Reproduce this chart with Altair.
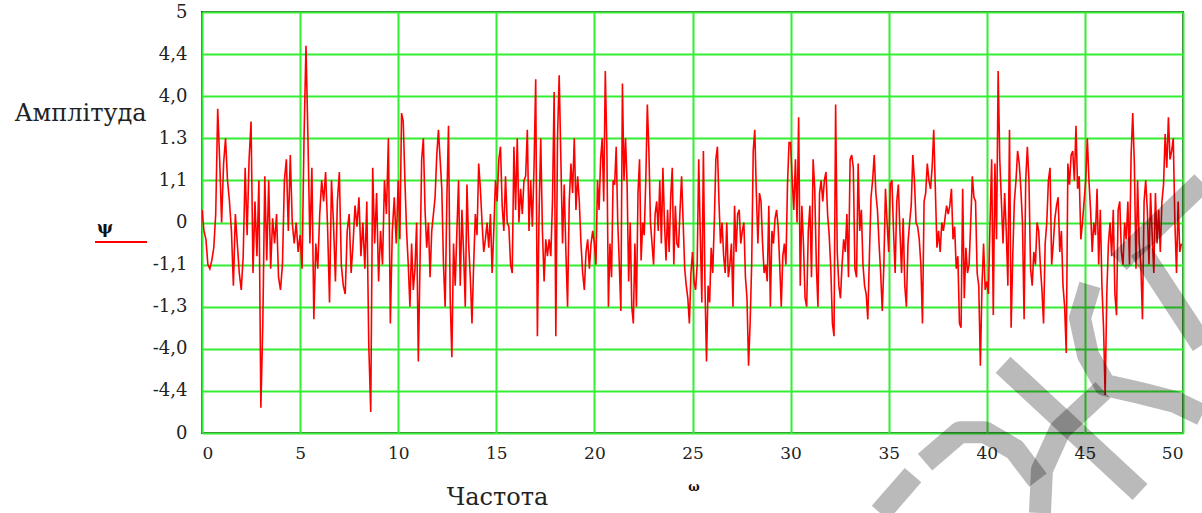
import altair as alt
import pandas as pd

# Signal, on the chart's 0..10 vertical grid scale, one list per 10-unit span of "Частота"
seg_0_10 = [5.3, 4.8, 4.6, 4.0, 3.9, 4.1, 4.4, 5.2, 7.7, 6.5, 5.0, 6.4, 7.0, 6.0, 5.5, 4.8, 3.5, 5.2, 4.5, 3.8,
            3.4, 4.2, 6.3, 4.7, 6.5, 7.4, 3.8, 5.5, 4.2, 6.0, 0.6, 2.6, 6.1, 4.1, 6.0, 3.9, 5.1, 4.5, 5.2, 3.7,
            3.4, 4.0, 6.0, 6.5, 4.8, 6.6, 5.0, 4.5, 5.0, 4.3, 4.7, 3.9, 7.0, 9.2, 7.0, 4.5, 6.3, 2.7, 4.5, 3.9,
            5.2, 6.0, 5.5, 6.2, 4.9, 3.1, 6.0, 5.0, 3.6, 5.5, 6.2, 4.0, 3.5, 3.3, 4.8, 5.2, 3.8, 4.5, 5.4, 4.9,
            5.6, 4.2, 5.0, 3.9, 5.5, 2.1, 0.5, 6.3, 4.5, 5.7, 3.6, 4.8, 4.0, 6.0, 5.2, 7.0, 2.6, 4.8, 5.6, 4.5]
seg_10_20 = [6.0, 4.6, 7.6, 7.4, 6.0, 4.8, 4.0, 3.0, 4.5, 3.4, 3.9, 5.0, 1.7, 4.0, 6.5, 7.0, 5.3, 4.4, 5.0, 3.7,
             4.8, 5.2, 5.6, 6.6, 7.2, 6.5, 5.8, 4.0, 3.0, 5.5, 7.3, 3.2, 1.8, 4.5, 3.5, 4.8, 6.0, 3.5, 5.3, 4.3,
             3.0, 5.9, 4.5, 3.7, 2.6, 4.0, 5.2, 4.7, 6.4, 5.8, 5.0, 4.3, 4.6, 5.0, 4.4, 5.2, 3.8, 4.8, 6.0, 5.5,
             6.5, 6.8, 5.4, 4.8, 6.1, 5.0, 4.9, 4.0, 3.8, 6.8, 5.3, 7.0, 5.0, 5.8, 5.2, 6.0, 6.1, 7.2, 4.8, 6.0,
             4.9, 6.3, 8.4, 2.3, 5.2, 7.0, 4.8, 3.6, 4.6, 4.2, 4.6, 4.2, 5.5, 8.1, 2.3, 7.0, 8.5, 6.5, 4.5, 5.9,
             4.3, 3.0, 5.5, 6.4, 5.7, 7.0, 5.3, 6.1, 5.5, 4.5, 3.8, 3.4, 4.3, 4.6, 3.9, 4.5, 4.8]
seg_20_30 = [4.5, 4.0, 6.0, 5.3, 6.5, 7.0, 5.5, 8.6, 6.8, 3.0, 4.5, 3.7, 6.0, 5.9, 6.8, 5.0, 4.0, 2.9, 8.3, 6.0,
             7.0, 5.9, 3.6, 5.0, 3.0, 2.6, 4.5, 3.0, 5.7, 6.5, 4.1, 5.0, 4.7, 6.0, 7.8, 6.7, 5.0, 4.5, 4.0, 5.2,
             5.5, 4.8, 6.0, 4.5, 6.3, 5.0, 4.1, 5.3, 4.3, 5.6, 6.3, 4.0, 5.4, 4.5, 4.4, 5.3, 6.1, 5.0, 3.9, 3.5,
             3.2, 2.6, 3.8, 4.3, 3.6, 3.4, 4.0, 6.5, 4.7, 3.1, 6.7, 3.5, 1.7, 3.5, 3.1, 4.4, 3.8, 5.0, 6.5, 6.8,
             5.5, 4.5, 5.0, 4.2, 3.8, 5.0, 3.7, 4.0, 4.5, 3.0, 5.4, 4.3, 5.2, 5.3, 4.5, 4.8, 5.0, 3.7, 3.2, 1.6,
             2.6, 4.0, 6.7, 7.2, 5.7, 4.5, 5.7, 5.5, 4.5, 3.8, 4.0, 3.6, 5.4, 3.0, 4.8, 4.5, 5.1, 5.3, 4.9, 4.0,
             3.0, 4.2, 4.5, 4.0, 5.9, 6.9]
seg_30_40 = [6.9, 6.0, 5.3, 6.5, 5.0, 7.5, 3.5, 5.4, 4.5, 3.2, 3.0, 4.8, 5.4, 3.7, 6.5, 5.8, 4.0, 3.0, 5.7, 6.0,
             5.5, 6.0, 6.2, 5.2, 4.7, 3.9, 2.6, 2.3, 7.8, 4.3, 3.5, 3.2, 4.0, 4.6, 4.3, 5.2, 3.7, 6.5, 6.6, 6.3,
             3.9, 3.7, 6.4, 4.8, 5.3, 4.0, 3.5, 3.3, 2.7, 4.2, 5.6, 6.0, 6.6, 5.7, 5.3, 4.5, 3.8, 2.9, 4.0, 5.8,
             5.0, 4.3, 5.9, 6.0, 4.8, 3.8, 5.5, 5.9, 4.8, 3.8, 5.1, 3.5, 3.0, 4.5, 5.0, 5.4, 6.6, 6.0, 5.0, 4.9,
             4.6, 4.0, 2.6, 5.5, 5.7, 6.4, 6.0, 5.8, 6.3, 7.2, 5.8, 4.4, 4.8, 4.3, 5.0, 4.8, 5.1, 5.4, 5.2, 5.4,
             5.8, 4.6, 4.9, 3.9, 4.2, 2.6, 2.5, 5.8, 3.2, 4.4, 3.8, 4.0, 5.0, 6.1, 5.6, 5.5, 3.8, 3.5, 1.6, 3.5,
             4.5, 3.4]
seg_40_50 = [3.6, 3.3, 5.0, 6.5, 2.8, 6.4, 4.6, 8.6, 6.5, 5.5, 4.5, 5.7, 4.8, 3.5, 7.2, 2.5, 4.2, 5.5, 6.0, 6.7,
             6.4, 5.8, 5.0, 2.7, 6.0, 6.8, 6.0, 3.9, 3.5, 4.3, 4.0, 5.0, 4.8, 4.0, 3.4, 2.6, 4.5, 5.0, 6.0, 6.3,
             4.0, 4.5, 5.1, 5.4, 5.6, 4.3, 4.8, 3.5, 3.0, 1.9, 6.4, 5.9, 6.6, 6.7, 6.0, 7.3, 5.8, 6.1, 4.6, 5.0,
             5.5, 6.0, 7.0, 6.0, 5.3, 4.3, 5.0, 4.7, 5.8, 4.0, 5.3, 3.5, 2.5, 0.9, 3.3, 4.5, 5.0, 4.2, 5.3, 3.3,
             2.8, 5.3, 5.5, 4.3, 4.0, 5.0, 4.6, 5.5, 4.0, 6.6, 7.6, 6.4, 3.9, 6.0, 4.5, 4.0, 2.7, 5.5, 6.0, 5.3,
             4.0, 5.7, 4.7, 3.8, 5.7, 4.5, 5.3, 4.3, 5.5, 5.9, 7.1, 6.3, 7.5, 6.5, 6.7, 7.0, 5.0, 3.8, 5.5, 4.3,
             4.5]
segments = [seg_0_10, seg_10_20, seg_20_30, seg_30_40, seg_40_50]

y_tick_values = [0, 1, 2, 3, 4, 5, 6, 7, 8, 9, 10]
y_tick_labels = ["0", "-4,4", "-4,0", "-1,3", "-1,1", "0", "1,1", "1.3", "4,0", "4,4", "5"]
x_tick_values = [0, 5, 10, 15, 20, 25, 30, 35, 40, 45, 50]

# Watermark strokes (decoration), in chart units
wm_id = [1, 1, 2, 2, 3, 3, 3, 3, 3, 3, 3, 4, 4, 4, 4, 5, 5, 6, 6, 6, 6, 6, 7, 7]
wm_x = [50.97, 46.74, 47.81, 50.97, 45.26, 44.75, 45.16, 46.02, 47.81, 49.59, 50.97,
        45.92, 43.73, 42.81, 42.71, 40.83, 47.81, 36.85, 38.63, 39.91, 41.44, 42.61, 36.24, 34.56]
wm_y = [5.96, 4.06, 4.35, 2.09, 3.52, 2.73, 1.85, 1.14, 0.95, 0.74, 0.43,
        1.02, 0.07, -0.88, -1.90, 1.62, -1.40, -0.69, 0.02, 0.02, -0.40, -1.12, -1.00, -1.90]

xs, ys = [], []
for k, seg in enumerate(segments):
    n = len(seg)
    for i, v in enumerate(seg):
        xs.append(10 * k + 10 * i / n)
        ys.append(v)
df = pd.DataFrame({"f": xs, "a": ys})
wm = pd.DataFrame({"id": wm_id, "x": wm_x, "y": wm_y, "o": list(range(len(wm_id)))})

label_map = "{" + ",".join(f"'{v}':'{l}'" for v, l in zip(y_tick_values, y_tick_labels)) + "}"
FONT = "DejaVu Serif"

xscale = alt.Scale(domain=[0, 50], nice=False, zero=False)
yscale = alt.Scale(domain=[0, 10], nice=False, zero=False)

line = alt.Chart(df).mark_line(color="#ff0000", strokeWidth=1.6, clip=True).encode(
    x=alt.X("f:Q", scale=xscale, axis=alt.Axis(
        values=x_tick_values, title="Частота", grid=True, gridColor="#33ee33", gridWidth=2,
        ticks=False, domain=False, labelFont=FONT, labelFontSize=17, labelColor="#222",
        labelPadding=12, titleFont=FONT, titleFontSize=24, titleFontWeight="normal", titleColor="#222",
        titleX=295, titleY=64, titleBaseline="middle", titleAlign="center")),
    y=alt.Y("a:Q", scale=yscale, axis=alt.Axis(
        values=y_tick_values, labelExpr=f"{label_map}[datum.value]", title="Амплітуда",
        grid=True, gridColor="#33ee33", gridWidth=2, ticks=False, domain=False,
        labelFont=FONT, labelFontSize=18, labelColor="#222", labelPadding=15,
        titleFont=FONT, titleFontSize=24, titleFontWeight="normal", titleColor="#222",
        titleAngle=0, titleX=-122, titleY=101, titleAlign="center", titleBaseline="middle")),
)

one = pd.DataFrame({"k": [0]})
psi = alt.Chart(one).mark_text(text="ψ", font=FONT, fontSize=17, fontWeight="bold", color="#111").encode(
    x=alt.value(-97), y=alt.value(216))
psi_line = alt.Chart(one).mark_rule(color="#ff0000", strokeWidth=2).encode(
    x=alt.value(-107), x2=alt.value(-55), y=alt.value(230))
omega = alt.Chart(one).mark_text(text="ω", font=FONT, fontSize=12, fontWeight="bold", color="#111").encode(
    x=alt.value(492), y=alt.value(475))

water = alt.Chart(wm).mark_line(color="#000000", opacity=0.27, strokeWidth=22, strokeCap="butt",
                                strokeJoin="round", clip=False).encode(
    x=alt.X("x:Q", scale=xscale), y=alt.Y("y:Q", scale=yscale), detail="id:N", order="o:Q")

chart = alt.layer(line, psi, psi_line, omega, water).properties(
    width=981, height=421,
    autosize=alt.AutoSizeParams(type="none"),
    padding={"left": 202, "top": 12, "right": 19, "bottom": 80},
    background="white",
).configure_view(stroke="#4a4a4a", strokeWidth=2)

chart.save("out.html", embed_options={"renderer": "svg", "actions": False})
